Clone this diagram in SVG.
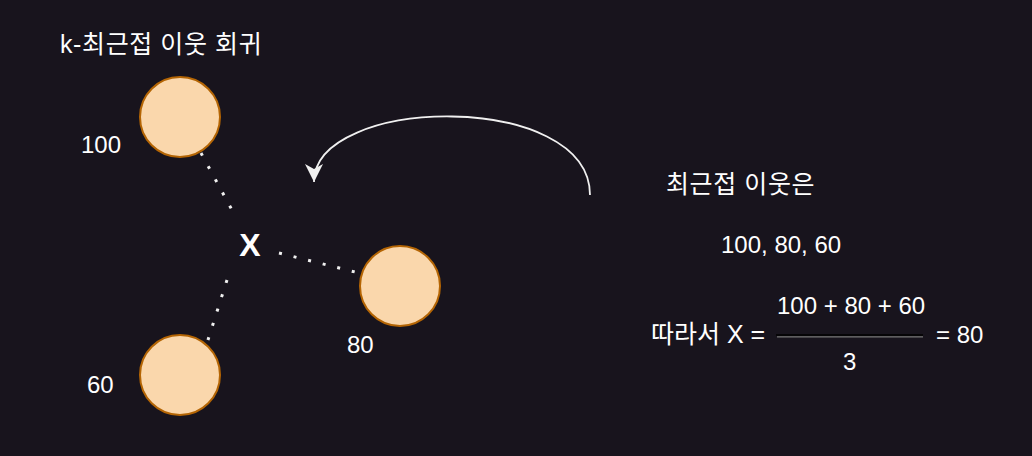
<svg xmlns="http://www.w3.org/2000/svg" width="1032" height="456" viewBox="0 0 1032 456">
<defs>
<style>
.t{font-family:"Liberation Sans","Noto Sans CJK KR",Arial,sans-serif;fill:#ffffff;font-size:24px}
.k{font-family:"Liberation Sans","Noto Sans CJK KR",sans-serif;fill:#ffffff;font-size:25px;letter-spacing:0.6px}
.node{fill:#fad7ac;stroke:#b46504;stroke-width:2}
.dot{stroke:#f0f0f0;stroke-width:3;stroke-dasharray:3 12;fill:none}
</style>
<marker id="arr" markerWidth="22" markerHeight="22" viewBox="0 0 22 22" refX="18" refY="11" orient="auto" markerUnits="userSpaceOnUse">
<path d="M0,2 L18,11 L0,20 L5,11 Z" fill="#f0f0f0"/>
</marker>
</defs>
<rect width="1032" height="456" fill="#18141d"/>
<g id="connectors">
<line class="dot" x1="201" y1="153" x2="232" y2="210"/>
<line class="dot" x1="279" y1="253" x2="359" y2="273"/>
<line class="dot" x1="227" y1="280" x2="207" y2="343"/>
<path d="M590,195 C590,90 314,95 314,182" fill="none" stroke="#f0f0f0" stroke-width="1.8" marker-end="url(#arr)"/>
</g>
<g id="node-top"><circle class="node" cx="180" cy="117" r="40"/></g>
<g id="node-bottom"><circle class="node" cx="180" cy="375" r="40"/></g>
<g id="node-right"><circle class="node" cx="400" cy="286" r="40"/></g>
<g id="labels">
<text class="k" x="60" y="53">k-최근접 이웃 회귀</text>
<text class="t" x="81" y="153">100</text>
<text class="t" x="347" y="353">80</text>
<text class="t" x="87" y="393">60</text>
<text class="t" x="250" y="256" text-anchor="middle" font-weight="bold" style="font-size:32px">X</text>
<text class="k" x="666" y="193">최근접 이웃은</text>
<text class="t" x="721" y="253">100, 80, 60</text>
<text class="t" x="777" y="314">100 + 80 + 60</text>
<text class="k" x="651" y="343" style="letter-spacing:0">따라서 X =</text>
<text class="t" x="936" y="343">= 80</text>
<text class="t" x="843" y="370">3</text>
</g>
<g id="fraction">
<line x1="776" y1="335" x2="923" y2="335" stroke="#000000" stroke-width="1.5"/>
<line x1="777" y1="336.8" x2="923" y2="336.8" stroke="#777777" stroke-width="1.2"/>
</g>
</svg>
